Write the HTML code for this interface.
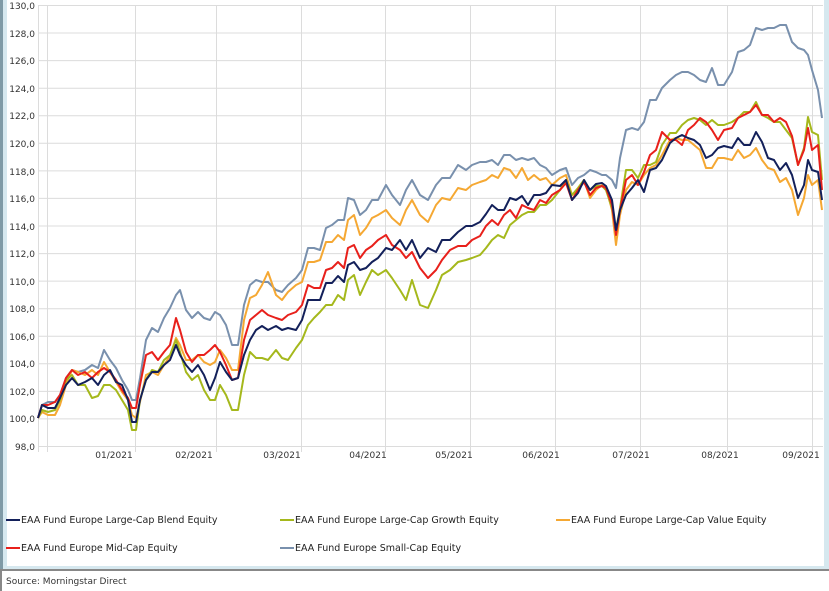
<!DOCTYPE html>
<html><head><style>
body{margin:0;width:829px;height:591px;overflow:hidden;background:#fff;font-family:"DejaVu Sans","Liberation Sans",sans-serif;}
</style></head><body>
<svg width="829" height="591" xmlns="http://www.w3.org/2000/svg" style="position:absolute;left:0;top:0">
<rect x="0" y="0" width="3" height="571" fill="#7f9aa6"/>
<rect x="3" y="0" width="4" height="571" fill="#d6e8ef"/>
<rect x="824" y="0" width="5" height="571" fill="#d6e8ef"/>
<rect x="3" y="566" width="824" height="4" fill="#d6e8ef"/>
<rect x="0" y="569" width="829" height="2" fill="#888"/>
<rect x="0" y="571" width="2" height="20" fill="#888"/>
<g stroke="#dcdcdc" stroke-width="1">
<line x1="38" x2="823" y1="5.5" y2="5.5"/><line x1="38" x2="823" y1="33" y2="33"/><line x1="38" x2="823" y1="60.6" y2="60.6"/><line x1="38" x2="823" y1="88.2" y2="88.2"/><line x1="38" x2="823" y1="115.7" y2="115.7"/><line x1="38" x2="823" y1="143.3" y2="143.3"/><line x1="38" x2="823" y1="170.9" y2="170.9"/><line x1="38" x2="823" y1="198.4" y2="198.4"/><line x1="38" x2="823" y1="226" y2="226"/><line x1="38" x2="823" y1="253.6" y2="253.6"/><line x1="38" x2="823" y1="281.1" y2="281.1"/><line x1="38" x2="823" y1="308.7" y2="308.7"/><line x1="38" x2="823" y1="336.3" y2="336.3"/><line x1="38" x2="823" y1="363.8" y2="363.8"/><line x1="38" x2="823" y1="391.4" y2="391.4"/><line x1="38" x2="823" y1="418.9" y2="418.9"/><line x1="38" x2="823" y1="446.5" y2="446.5"/>
<line x1="38.5" x2="38.5" y1="5" y2="452"/><line x1="47.5" x2="47.5" y1="5" y2="452"/><line x1="135.5" x2="135.5" y1="5" y2="452"/><line x1="216.5" x2="216.5" y1="5" y2="452"/><line x1="301.5" x2="301.5" y1="5" y2="452"/><line x1="385.5" x2="385.5" y1="5" y2="452"/><line x1="470.5" x2="470.5" y1="5" y2="452"/><line x1="555.5" x2="555.5" y1="5" y2="452"/><line x1="640.5" x2="640.5" y1="5" y2="452"/><line x1="727.5" x2="727.5" y1="5" y2="452"/><line x1="812.5" x2="812.5" y1="5" y2="452"/>
</g>
<g font-size="9" fill="#333" text-anchor="end">
<text x="35" y="9">130,0</text><text x="35" y="37">128,0</text><text x="35" y="64">126,0</text><text x="35" y="92">124,0</text><text x="35" y="119">122,0</text><text x="35" y="147">120,0</text><text x="35" y="175">118,0</text><text x="35" y="202">116,0</text><text x="35" y="230">114,0</text><text x="35" y="257">112,0</text><text x="35" y="285">110,0</text><text x="35" y="312">108,0</text><text x="35" y="340">106,0</text><text x="35" y="367">104,0</text><text x="35" y="395">102,0</text><text x="35" y="422">100,0</text><text x="35" y="450">98,0</text>
</g>
<g font-size="9" fill="#333" text-anchor="middle">
<text x="114" y="458">01/2021</text><text x="194" y="458">02/2021</text><text x="282" y="458">03/2021</text><text x="368" y="458">04/2021</text><text x="454" y="458">05/2021</text><text x="541" y="458">06/2021</text><text x="631" y="458">07/2021</text><text x="720" y="458">08/2021</text><text x="801" y="458">09/2021</text>
</g>
<g fill="none" stroke-width="2" stroke-linejoin="round">
<polyline stroke="#7990ad" points="38,418 42,405 48,402 55,402 60,395 66,378 72,370 78,372 85,370 92,365 98,368 104,350 110,360 116,368 122,380 128,390 132,400 136,400 140,378 146,340 152,328 158,332 164,318 170,308 176,295 180,290 186,310 192,318 198,312 204,318 210,320 215,312 220,315 226,325 232,345 238,345 244,305 250,285 256,280 262,282 268,282 276,290 282,292 288,285 296,278 302,270 308,248 314,248 320,250 326,228 332,225 338,220 344,220 348,198 354,200 360,215 366,210 372,200 378,200 386,185 392,195 400,205 406,190 412,180 420,195 428,200 436,185 442,178 450,178 458,165 466,170 472,165 480,162 486,162 492,160 498,165 504,155 510,155 516,160 522,158 528,160 534,158 540,165 546,168 552,175 560,170 566,168 572,185 578,178 584,175 590,170 596,172 602,175 606,175 612,180 616,188 620,158 626,130 632,128 638,130 644,122 650,100 656,100 662,88 670,80 676,75 682,72 688,72 694,75 700,80 706,82 712,68 718,85 724,85 732,72 738,52 744,50 750,45 756,28 762,30 768,28 774,28 780,25 786,25 792,42 798,48 804,50 808,55 812,70 818,90 822,118"/>
<polyline stroke="#f5a833" points="38,418 42,412 48,415 55,415 60,405 66,385 72,370 78,372 85,375 92,370 98,375 104,362 110,372 116,382 122,392 128,400 132,415 136,418 140,402 146,375 152,372 158,375 164,365 170,356 176,338 180,345 186,360 192,360 198,355 204,362 210,365 215,362 220,350 226,358 232,370 238,370 244,320 250,298 256,295 262,285 268,272 276,295 282,300 288,292 296,285 302,282 308,262 314,262 320,260 326,242 332,242 338,235 344,240 348,220 354,215 360,235 366,228 372,218 378,215 386,210 392,218 400,225 406,210 412,200 420,215 428,222 436,205 442,198 450,200 458,188 466,190 472,185 480,182 486,180 492,175 498,178 504,168 510,170 516,178 522,168 528,180 534,175 540,180 546,178 552,185 560,178 566,175 572,195 578,190 584,180 590,198 596,190 602,185 606,188 612,210 616,245 620,215 626,190 632,182 638,185 644,175 650,168 656,165 662,155 670,140 676,138 682,140 688,140 694,145 700,150 706,168 712,168 718,158 724,158 732,160 738,150 744,158 750,155 756,148 762,160 768,168 774,170 780,182 786,178 792,190 798,215 804,198 808,175 812,185 818,180 822,210"/>
<polyline stroke="#a5b81c" points="38,418 42,410 48,412 55,410 60,400 66,380 72,375 78,385 85,385 92,398 98,396 104,385 110,385 116,390 122,400 128,410 132,430 136,430 140,400 146,380 152,370 158,372 164,360 170,355 176,340 180,352 186,372 192,380 198,375 204,390 210,400 215,400 220,385 226,395 232,410 238,410 244,375 250,352 256,358 262,358 268,360 276,350 282,358 288,360 296,348 302,340 308,325 314,318 320,312 326,305 332,305 338,295 344,300 348,280 354,275 360,295 366,282 372,270 378,275 386,270 392,278 400,290 406,300 412,280 420,305 428,308 436,290 442,275 450,270 458,262 466,260 472,258 480,255 486,248 492,240 498,235 504,238 510,225 516,220 522,215 528,212 534,212 540,205 546,205 552,200 560,190 566,180 572,195 578,188 584,180 590,190 596,186 602,186 606,190 612,208 616,230 620,208 626,170 632,170 638,178 644,165 650,165 656,162 662,145 670,133 676,133 682,125 688,120 694,118 700,120 706,125 712,120 718,125 724,125 732,122 738,118 744,112 750,112 756,102 762,115 768,118 774,122 780,122 786,130 792,138 798,165 804,148 808,117 812,132 818,135 822,180"/>
<polyline stroke="#e8201b" points="38,418 42,405 48,405 55,402 60,395 66,378 72,370 78,375 85,372 92,378 98,372 104,368 110,372 116,380 122,390 128,398 132,408 136,408 140,385 146,355 152,352 158,360 164,352 170,345 176,318 180,330 186,352 192,362 198,355 204,355 210,350 215,345 220,352 226,365 232,380 238,378 244,340 250,320 256,315 262,310 268,315 276,318 282,320 288,315 296,312 302,305 308,285 314,288 320,288 326,270 332,268 338,262 344,268 348,248 354,245 360,258 366,250 372,246 378,240 386,235 392,245 400,250 406,258 412,252 420,268 428,278 436,270 442,260 450,250 458,246 466,246 472,240 480,236 486,226 492,220 498,225 504,215 510,210 516,218 522,205 528,208 534,210 540,200 546,203 552,195 560,190 566,183 572,200 578,190 584,182 590,195 596,188 602,186 606,188 612,205 616,235 620,210 626,180 632,175 638,185 644,172 650,155 656,150 662,132 670,140 676,140 682,145 688,130 694,125 700,118 706,122 712,130 718,140 724,130 732,128 738,118 744,115 750,112 756,105 762,115 768,115 774,122 780,118 786,122 792,136 798,165 804,150 808,128 812,150 818,145 822,190"/>
<polyline stroke="#13205a" points="38,418 42,405 48,408 55,408 60,398 66,385 72,378 78,385 85,382 92,378 98,385 104,375 110,370 116,382 122,385 128,400 132,422 136,422 140,400 146,380 152,372 158,372 164,365 170,360 176,345 180,355 186,365 192,372 198,365 204,375 210,390 215,378 220,362 226,372 232,380 238,378 244,355 250,340 256,330 262,326 268,330 276,326 282,330 288,328 296,330 302,320 308,300 314,300 320,300 326,283 332,283 338,276 344,282 348,265 354,262 360,270 366,268 372,262 378,258 386,248 392,250 400,240 406,250 412,240 420,258 428,248 436,252 442,240 450,240 458,232 466,226 472,226 480,222 486,214 492,205 498,210 504,210 510,198 516,200 522,196 528,205 534,195 540,195 546,193 552,185 560,186 566,180 572,200 578,193 584,180 590,190 596,184 602,183 606,186 612,200 616,230 620,210 626,195 632,188 638,180 644,192 650,170 656,168 662,160 670,143 676,138 682,135 688,138 694,140 700,145 706,158 712,155 718,148 724,146 732,148 738,138 744,145 750,145 756,132 762,142 768,158 774,160 780,170 786,163 792,175 798,198 804,185 808,160 812,170 818,172 822,200"/>
</g>
<g stroke-width="2">
<line x1="6" x2="20" y1="520" y2="520" stroke="#13205a"/>
<line x1="280" x2="294" y1="520" y2="520" stroke="#a5b81c"/>
<line x1="556" x2="570" y1="520" y2="520" stroke="#f5a833"/>
<line x1="6" x2="20" y1="548" y2="548" stroke="#e8201b"/>
<line x1="280" x2="294" y1="548" y2="548" stroke="#7990ad"/>
</g>
<g font-size="9.5" fill="#222">
<text x="21" y="523">EAA Fund Europe Large-Cap Blend Equity</text>
<text x="295" y="523">EAA Fund Europe Large-Cap Growth Equity</text>
<text x="571" y="523">EAA Fund Europe Large-Cap Value Equity</text>
<text x="21" y="551">EAA Fund Europe Mid-Cap Equity</text>
<text x="295" y="551">EAA Fund Europe Small-Cap Equity</text>
</g>
<text x="6" y="584" font-size="9" fill="#333">Source: Morningstar Direct</text>
</svg>
</body></html>
